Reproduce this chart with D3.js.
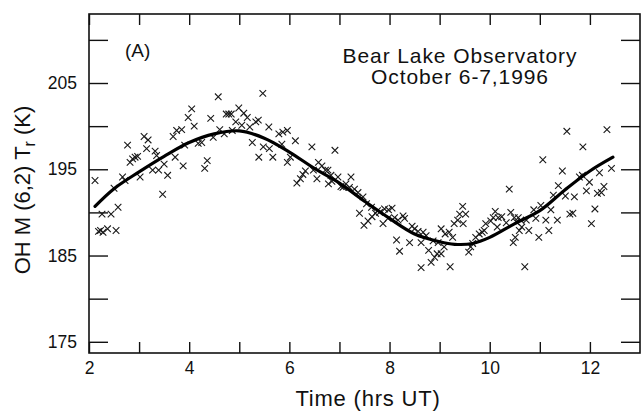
<!DOCTYPE html>
<html>
<head>
<meta charset="utf-8">
<script src="https://cdn.jsdelivr.net/npm/d3@7"></script>
<style>
  html, body { margin: 0; padding: 0; background: #fff; }
  svg { display: block; }
  text { font-family: "Liberation Sans", Arial, Helvetica, sans-serif; fill: #111; }
</style>
</head>
<body>
<svg id="chart" width="642" height="412"></svg>
<script>
// OH Meinel (6,2) rotational temperature, Bear Lake Observatory, 6-7 Oct 1996
const obsTime = [
  2.12, 2.19, 2.23, 2.28, 2.37, 2.54, 2.26, 2.44, 2.58, 2.50,
  2.67, 2.72, 2.77, 2.82, 2.87, 2.92, 2.97, 3.02, 3.10, 3.18,
  3.15, 3.27, 3.39, 3.32, 3.35, 3.47, 3.50, 3.57, 3.68, 3.75,
  3.85, 3.72, 3.88, 3.91, 3.98, 4.05, 4.10, 4.18, 4.25, 4.31,
  4.36, 4.43, 4.48, 4.58, 4.61, 4.70, 4.74, 4.79, 4.84, 4.86,
  4.93, 4.99, 5.05, 5.09, 5.16, 5.21, 5.26, 5.33, 5.38, 5.39,
  5.47, 5.48, 5.60, 5.59, 5.67, 5.79, 5.87, 5.96, 5.85, 5.96,
  6.02, 6.12, 6.15, 6.22, 6.27, 6.32, 6.45, 6.48, 6.55, 6.58,
  6.65, 6.72, 6.77, 6.83, 6.78, 6.85, 6.91, 6.97, 7.03, 7.07,
  7.13, 7.20, 7.23, 7.30, 7.37, 7.47, 7.54, 7.64, 7.40, 7.49,
  7.57, 7.65, 7.72, 7.76, 7.80, 7.87, 7.90, 7.98, 8.05, 7.97,
  8.10, 8.17, 8.27, 8.30, 8.14, 8.20, 8.40, 8.45, 8.50, 8.57,
  8.63, 8.67, 8.73, 8.63, 8.78, 8.83, 8.90, 8.95, 8.87, 8.97,
  9.03, 9.11, 9.19, 9.26, 9.03, 9.09, 9.21, 9.29, 9.36, 9.40,
  9.46, 9.47, 9.52, 9.58, 9.62, 9.66, 9.72, 9.79, 9.85, 9.89,
  9.92, 10.02, 10.07, 10.11, 10.17, 10.24, 10.15, 10.33, 10.39, 10.42,
  10.49, 10.53, 10.57, 10.62, 10.47, 10.51, 10.59, 10.64, 10.70, 10.73,
  10.78, 10.88, 10.92, 10.98, 11.02, 11.06, 11.12, 11.18, 11.22, 11.27,
  11.35, 11.37, 11.45, 11.51, 11.54, 11.60, 11.66, 11.69, 11.79, 11.85,
  11.86, 11.93, 11.99, 12.03, 12.10, 12.15, 12.23, 12.28, 12.19, 12.34,
  12.43
];
const obsTemp = [
  193.7, 187.8, 187.9, 187.7, 188.1, 187.9, 189.8, 189.8, 190.6, 192.8,
  194.1, 193.7, 197.8, 195.8, 196.2, 196.4, 196.5, 194.1, 198.8, 198.4,
  197.4, 194.9, 194.9, 197.1, 196.6, 192.1, 195.6, 194.3, 198.8, 199.5,
  199.6, 196.4, 195.4, 197.8, 201.0, 202.0, 200.0, 198.0, 198.1, 195.1,
  196.0, 200.9, 198.7, 203.4, 199.6, 199.1, 201.4, 201.4, 201.4, 199.5,
  200.5, 202.1, 200.1, 201.5, 201.0, 199.9, 198.1, 200.5, 200.7, 196.4,
  203.8, 197.6, 197.4, 199.9, 196.4, 199.1, 199.3, 199.5, 197.9, 195.8,
  196.4, 198.3, 193.4, 193.9, 194.4, 194.8, 197.6, 194.9, 193.9, 195.8,
  195.4, 194.9, 194.9, 194.3, 193.3, 193.6, 197.2, 194.1, 193.0, 192.9,
  193.3, 192.9, 194.1, 192.7, 192.3, 191.8, 191.0, 190.6, 189.9, 188.5,
  189.0, 189.5, 189.9, 190.2, 190.0, 188.7, 190.4, 190.3, 190.5, 189.3,
  189.4, 189.1, 189.6, 189.3, 186.8, 185.5, 186.5, 188.4, 188.1, 187.8,
  186.5, 187.7, 187.3, 183.6, 185.6, 184.2, 184.8, 185.2, 186.7, 186.5,
  188.1, 187.5, 187.7, 187.1, 185.2, 186.0, 183.7, 188.7, 189.1, 189.8,
  190.7, 188.7, 189.8, 185.4, 186.0, 186.4, 187.1, 187.5, 187.7, 187.9,
  188.7, 189.0, 189.4, 190.1, 189.4, 189.5, 188.3, 188.8, 192.7, 190.0,
  189.4, 188.9, 189.4, 189.1, 186.5, 187.1, 187.9, 188.3, 183.7, 189.1,
  187.9, 190.3, 189.3, 187.1, 190.8, 196.1, 189.1, 187.9, 190.3, 192.0,
  189.1, 193.1, 194.8, 191.9, 199.4, 189.8, 189.9, 191.8, 194.1, 194.3,
  197.6, 192.5, 193.5, 188.7, 190.4, 192.2, 192.3, 193.0, 194.6, 199.6,
  195.1
];

// Least-squares fit curve
const fitTime = [2.12, 2.5, 3.0, 3.5, 4.0, 4.5, 5.0, 5.5, 6.0, 6.5, 7.0, 7.5,
                 8.0, 8.5, 9.0, 9.3, 9.66, 10.0, 10.5, 11.0, 11.5, 12.0, 12.46];
const fitTemp = [190.7, 192.75, 194.7, 196.5, 198.1, 199.1, 199.45, 198.6, 197.0,
                 195.1, 193.4, 191.3, 189.3, 187.5, 186.6, 186.3, 186.4, 187.1,
                 188.7, 190.2, 192.6, 194.8, 196.4];

const xTicks = [2, 3, 4, 5, 6, 7, 8, 9, 10, 11, 12];
const xLabels = [2, 4, 6, 8, 10, 12];
const yTicks = [175, 180, 185, 190, 195, 200, 205, 210];
const yLabels = [175, 185, 195, 205];

const svg = d3.select("#chart");
const plotL = 89, plotR = 640, plotT = 14, plotB = 353;

const x = d3.scaleLinear().domain([2, 13]).range([plotL, plotR]);
const y = d3.scaleLinear().domain([173.7, 213]).range([plotB, plotT]);

// axes: ticks point inward on all four sides
const axisStyle = g => {
  g.select(".domain").remove();
  g.selectAll(".tick line").attr("stroke", "#111").attr("stroke-width", 1.4);
  g.selectAll(".tick text").attr("fill", "#111");
};

svg.append("g")
  .attr("transform", `translate(0,${plotB})`)
  .call(d3.axisBottom(x).tickValues(xTicks).tickSize(-11).tickPadding(9)
        .tickFormat(d => xLabels.includes(d) ? d : ""))
  .call(axisStyle)
  .selectAll("text").attr("font-size", 17.5)
  .style("font-family", '"Liberation Sans", Arial, sans-serif');

svg.append("g")
  .attr("transform", `translate(0,${plotT})`)
  .call(d3.axisTop(x).tickValues(xTicks).tickSize(-11).tickFormat(""))
  .call(axisStyle);

svg.append("g")
  .attr("transform", `translate(${plotL},0)`)
  .call(d3.axisLeft(y).tickValues(yTicks).tickSize(-19).tickPadding(12)
        .tickFormat(d => yLabels.includes(d) ? d : ""))
  .call(axisStyle)
  .selectAll("text").attr("font-size", 17.5)
  .style("font-family", '"Liberation Sans", Arial, sans-serif');

svg.append("g")
  .attr("transform", `translate(${plotR},0)`)
  .call(d3.axisRight(y).tickValues(yTicks).tickSize(-19).tickFormat(""))
  .call(axisStyle);

// frame
svg.append("rect")
  .attr("x", plotL).attr("y", plotT)
  .attr("width", plotR - plotL).attr("height", plotB - plotT)
  .attr("fill", "none").attr("stroke", "#111").attr("stroke-width", 1.6);

// observations drawn as small crosses
const s = 3.3;
svg.append("g")
  .selectAll("path")
  .data(obsTime.map((t, i) => [t, obsTemp[i]]))
  .join("path")
  .attr("d", d => {
    const cx = x(d[0]), cy = y(d[1]);
    return `M${cx - s},${cy - s}L${cx + s},${cy + s}M${cx - s},${cy + s}L${cx + s},${cy - s}`;
  })
  .attr("stroke", "#1a1a1a")
  .attr("stroke-width", 1.1)
  .attr("fill", "none");

// fitted curve
const line = d3.line()
  .x(d => x(d[0]))
  .y(d => y(d[1]))
  .curve(d3.curveCatmullRom.alpha(0.5));

svg.append("path")
  .datum(fitTime.map((t, i) => [t, fitTemp[i]]))
  .attr("d", line)
  .attr("fill", "none")
  .attr("stroke", "#000")
  .attr("stroke-width", 3.2)
  .attr("stroke-linecap", "round");

// annotations
svg.append("text")
  .attr("x", 125).attr("y", 57)
  .attr("font-size", 19)
  .text("(A)");

svg.append("text")
  .attr("x", 460).attr("y", 63)
  .attr("text-anchor", "middle")
  .attr("font-size", 21)
  .attr("letter-spacing", 0.9)
  .text("Bear Lake Observatory");

svg.append("text")
  .attr("x", 460).attr("y", 84)
  .attr("text-anchor", "middle")
  .attr("font-size", 21)
  .attr("letter-spacing", 0.9)
  .text("October 6-7,1996");

// axis titles
svg.append("text")
  .attr("x", 368).attr("y", 406)
  .attr("text-anchor", "middle")
  .attr("font-size", 22)
  .attr("letter-spacing", 0.8)
  .text("Time (hrs UT)");

const yTitle = svg.append("text")
  .attr("transform", "translate(30,190) rotate(-90)")
  .attr("text-anchor", "middle")
  .attr("font-size", 22);
yTitle.append("tspan").text("OH M (6,2) T");
yTitle.append("tspan").attr("font-size", 16).attr("dy", 5).text("r");
yTitle.append("tspan").attr("dy", -5).text(" (K)");
</script>
</body>
</html>
